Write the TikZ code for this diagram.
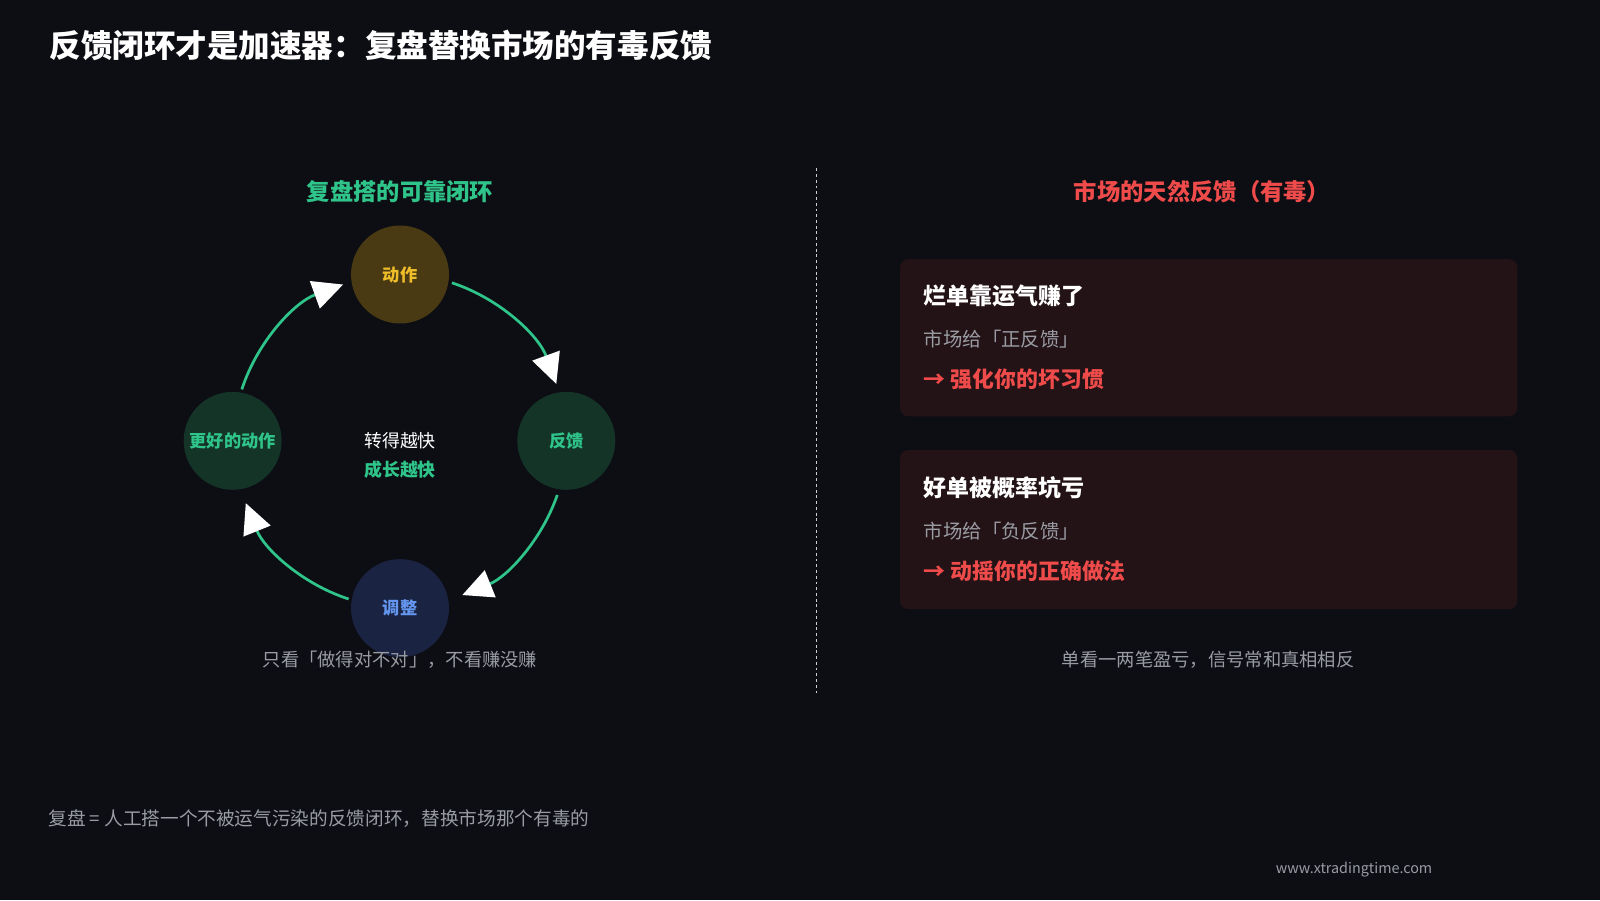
\documentclass[tikz,border=0pt]{standalone}
\usepackage{fontspec}
\setmainfont{Noto Sans CJK SC}
\usetikzlibrary{arrows.meta}
\definecolor{bg}{HTML}{0D0E14}
\definecolor{loopgreen}{HTML}{2FC58A}
\definecolor{hotred}{HTML}{F04B4B}
\definecolor{softgray}{HTML}{9A9CA4}
\definecolor{cardred}{HTML}{241316}
\definecolor{actfill}{HTML}{4A3A14}
\definecolor{acttext}{HTML}{F0BE28}
\definecolor{greenfill}{HTML}{143428}
\definecolor{bluefill}{HTML}{1A2442}
\definecolor{bluetext}{HTML}{6496F0}
\tikzset{
  stage/.style={circle, minimum size=48mm, inner sep=0, font=\fontsize{24}{24}\selectfont\bfseries},
  cycarc/.style={loopgreen, line width=3.8, -{Triangle[color=white, length=42, width=40]}},
  head/.style={font=\fontsize{32.5}{32.5}\selectfont\bfseries},
  card/.style={fill=cardred, rounded corners=12},
  body/.style={font=\fontsize{27}{27}\selectfont, anchor=west}
}
\begin{document}
\begin{tikzpicture}[x=0.5mm, y=-0.5mm]
  % background
  \fill[bg] (0,0) rectangle (1568,882);
  \useasboundingbox (0,0) rectangle (1568,882);
  % title
  \node[anchor=west, white, font=\fontsize{44}{44}\selectfont\bfseries] (title) at (46,45) {反馈闭环才是加速器：复盘替换市场的有毒反馈};
  % left column
  \node[head, loopgreen] (lhead) at (392,188) {复盘搭的可靠闭环};
  \coordinate (c) at (392,432);
  \node[stage, fill=actfill, text=acttext] (act) at (392,269) {动作};
  \node[stage, fill=greenfill, text=loopgreen] (fb) at (555,432) {反馈};
  \node[stage, fill=bluefill, text=bluetext] (adj) at (392,596) {调整};
  \node[stage, fill=greenfill, text=loopgreen] (better) at (228,432) {更好的动作};
  \draw[cycarc] ([shift={(-71.8:163)}]c) arc[start angle=-71.8, end angle=-20, radius=163];
  \draw[cycarc] ([shift={(19:163)}]c) arc[start angle=19, end angle=68, radius=163];
  \draw[cycarc] ([shift={(108:163)}]c) arc[start angle=108, end angle=158, radius=163];
  \draw[cycarc] ([shift={(198:163)}]c) arc[start angle=198, end angle=250, radius=163];
  \node[white, font=\fontsize{25}{25}\selectfont] (fast) at (392,432) {转得越快};
  \node[loopgreen, font=\fontsize{25}{25}\selectfont\bfseries] (grow) at (392,460) {成长越快};
  \node[softgray, font=\fontsize{25.5}{25.5}\selectfont] (lcap) at (392,647) {只看「做得对不对」，不看赚没赚};
  % divider
  \draw[softgray!50, dash pattern=on 4 off 4, line width=1] (800,165) -- (800,682);
  % right column
  \node[head, hotred] (rhead) at (1178,188) {市场的天然反馈（有毒）};
  \fill[card] (882,254) rectangle (1487,408);
  \node[body, white, font=\fontsize{32}{32}\selectfont\bfseries] (badt) at (903,290) {烂单靠运气赚了};
  \node[body, softgray] (bads) at (903,332) {市场给「正反馈」};
  \node[body, hotred, font=\fontsize{30.5}{30.5}\selectfont\bfseries] (badr) at (903,372) {→ 强化你的坏习惯};
  \fill[card] (882,441) rectangle (1487,597);
  \node[body, white, font=\fontsize{32}{32}\selectfont\bfseries] (goodt) at (903,478) {好单被概率坑亏};
  \node[body, softgray] (goods) at (903,520) {市场给「负反馈」};
  \node[body, hotred, font=\fontsize{30.5}{30.5}\selectfont\bfseries] (goodr) at (903,560) {→ 动摇你的正确做法};
  \node[softgray, font=\fontsize{25.5}{25.5}\selectfont] (rcap) at (1184,647) {单看一两笔盈亏，信号常和真相相反};
  % footer
  \node[body, softgray, font=\fontsize{26}{26}\selectfont] (note) at (45,802) {复盘 = 人工搭一个不被运气污染的反馈闭环，替换市场那个有毒的};
  \node[softgray, font=\fontsize{20}{20}\selectfont] (site) at (1327,852) {www.xtradingtime.com};
\end{tikzpicture}
\end{document}
